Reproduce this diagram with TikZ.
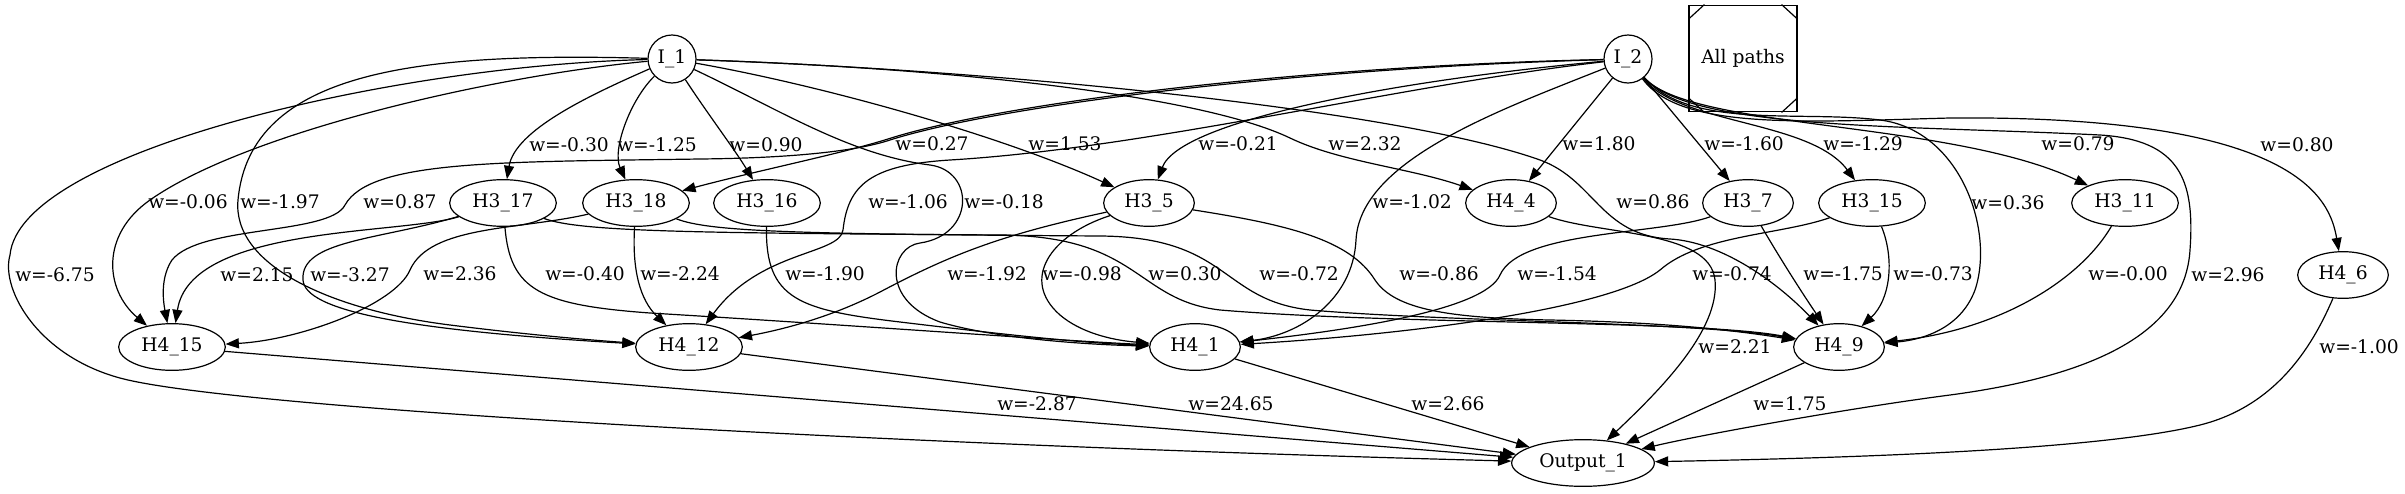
\documentclass[tikz,border=0pt]{standalone}
\usepackage{fontspec}
\setmainfont{DejaVu Serif}
\usetikzlibrary{arrows.meta,shapes.geometric}

\begin{document}
\begin{tikzpicture}[
  x=0.75pt, y=-0.75pt,
  font=\fontsize{14}{16}\selectfont,
  inp/.style={draw, circle, line width=0.9pt, minimum size=36pt, inner sep=0pt},
  hid/.style={draw, ellipse, line width=0.9pt, minimum width=68pt, minimum height=35pt, inner sep=0pt},
  hidw/.style={hid, minimum width=80pt},
  outp/.style={hid, minimum width=107pt},
  wt/.style={inner sep=0pt},
  arr/.style={-{Triangle[length=10pt,width=7.5pt]}, line width=0.9pt}
]
\useasboundingbox (0,0) rectangle (2405,493);

\node[inp] (i1) at (672,59) {I\_1};
\node[inp] (i2) at (1628,59) {I\_2};
\node[draw, line width=0.9pt, minimum width=81pt, minimum height=80pt] (allp) at (1743,58.5) {All paths};
\node[hidw] (h317) at (503,203) {H3\_17};
\node[hidw] (h318) at (636,203) {H3\_18};
\node[hidw] (h316) at (767,203) {H3\_16};
\node[hid] (h35) at (1149,203) {H3\_5};
\node[hid] (h44) at (1511,203) {H4\_4};
\node[hid] (h37) at (1748,203) {H3\_7};
\node[hidw] (h315) at (1872,203) {H3\_15};
\node[hidw] (h311) at (2125,203) {H3\_11};
\node[hid] (h46) at (2343,275) {H4\_6};
\node[hidw] (h415) at (172,347) {H4\_15};
\node[hidw] (h412) at (689,347) {H4\_12};
\node[hid] (h41) at (1195,347) {H4\_1};
\node[hid] (h49) at (1839,347) {H4\_9};
\node[outp] (out) at (1583,463) {Output\_1};

% corners of the legend box
\draw[line width=0.9pt] ([yshift=-11pt]allp.north west) -- ([xshift=12pt]allp.north west);
\draw[line width=0.9pt] ([yshift=-11pt]allp.north east) -- ([xshift=-12pt]allp.north east);
\draw[line width=0.9pt] ([yshift=11pt]allp.south west) -- ([xshift=12pt]allp.south west);
\draw[line width=0.9pt] ([yshift=11pt]allp.south east) -- ([xshift=-12pt]allp.south east);

% from I_1
\draw[arr] (i1) .. controls (590,95) and (515,130) .. (h317) node[wt] (w1) at (569,145) {w=-0.30};
\draw[arr] (i1) .. controls (630,100) and (612,150) .. (h318) node[wt] (w2) at (657,145) {w=-1.25};
\draw[arr] (i1) .. controls (705,110) and (735,150) .. (h316) node[wt] (w3) at (766,145) {w=0.90};
\draw[arr] (i1) .. controls (820,85) and (1000,135) .. (h35) node[wt] (w4) at (1065,144) {w=1.53};
\draw[arr] (i1) .. controls (950,68) and (1200,95) .. (1290,138) .. controls (1340,162) and (1410,168) .. (h44) node[wt] (w5) at (1365,144) {w=2.32};
\draw[arr] (i1) .. controls (1000,70) and (1400,110) .. (1540,160) .. controls (1595,180) and (1600,235) .. (1670,239) .. controls (1720,242) and (1775,280) .. (h49) node[wt] (w6) at (1653,202) {w=0.86};
\draw[arr] (i1) .. controls (780,110) and (850,155) .. (930,165) .. controls (975,171) and (975,235) .. (920,243) .. controls (890,247) and (880,300) .. (940,322) .. controls (1000,340) and (1100,345) .. (h41) node[wt] (w7) at (1004,202) {w=-0.18};
\draw[arr] (i1) .. controls (500,75) and (250,130) .. (150,200) .. controls (100,235) and (105,290) .. (h415) node[wt] (w8) at (188,202) {w=-0.06};
\draw[arr] (i1) .. controls (420,52) and (250,70) .. (238,200) .. controls (232,265) and (330,310) .. (450,325) .. controls (530,335) and (590,340) .. (h412) node[wt] (w9) at (280,202) {w=-1.97};
\draw[arr] (i1) .. controls (400,65) and (20,150) .. (10,255) .. controls (0,290) and (40,360) .. (128,380) .. controls (260,410) and (900,445) .. (out) node[wt] (w10) at (55,275) {w=-6.75};

% from I_2
\draw[arr] (i2) .. controls (1300,66) and (1000,103) .. (888,139) .. controls (840,154) and (760,170) .. (h318) node[wt] (w11) at (932,144) {w=0.27};
\draw[arr] (i2) .. controls (1400,80) and (1180,120) .. (h35) node[wt] (w12) at (1238,144) {w=-0.21};
\draw[arr] (i2) -- (h44) node[wt] (w13) at (1599,144) {w=1.80};
\draw[arr] (i2) -- (h37) node[wt] (w14) at (1744,144) {w=-1.60};
\draw[arr] (i2) .. controls (1680,125) and (1810,120) .. (h315) node[wt] (w15) at (1863,144) {w=-1.29};
\draw[arr] (i2) .. controls (1690,130) and (1950,120) .. (h311) node[wt] (w16) at (2078,144) {w=0.79};
\draw[arr] (i2) .. controls (1680,130) and (1800,122) .. (1950,118) .. controls (2300,115) and (2330,200) .. (h46) node[wt] (w17) at (2297,145) {w=0.80};
\draw[arr] (i2) .. controls (1690,130) and (1800,110) .. (1880,120) .. controls (1960,130) and (1995,230) .. (1975,290) .. controls (1960,330) and (1920,340) .. (h49) node[wt] (w18) at (2008,203) {w=0.36};
\draw[arr] (i2) .. controls (1690,130) and (1900,125) .. (2100,135) .. controls (2180,140) and (2195,180) .. (2190,250) .. controls (2185,330) and (2100,375) .. (1950,395) .. controls (1850,408) and (1700,435) .. (out) node[wt] (w19) at (2228,275) {w=2.96};
\draw[arr] (i2) .. controls (1500,110) and (1360,160) .. (1356,240) .. controls (1353,300) and (1300,335) .. (h41) node[wt] (w20) at (1412,202) {w=-1.02};
\draw[arr] (i2) .. controls (1400,85) and (1150,148) .. (950,160) .. controls (870,165) and (848,185) .. (843,230) .. controls (840,255) and (760,250) .. (h412) node[wt] (w21) at (908,202) {w=-1.06};
\draw[arr] (i2) .. controls (1300,68) and (1000,105) .. (890,140) .. controls (860,150) and (800,158) .. (700,159) .. controls (500,162) and (370,160) .. (345,205) .. controls (330,235) and (200,225) .. (172,260) .. controls (162,275) and (162,295) .. (h415) node[wt] (w22) at (400,202) {w=0.87};

% from H3_17
\draw[arr] (h317) .. controls (400,235) and (190,225) .. (h415) node[wt] (w23) at (257,275) {w=2.15};
\draw[arr] (h317) .. controls (380,240) and (300,240) .. (303,280) .. controls (305,310) and (400,330) .. (h412) node[wt] (w24) at (350,275) {w=-3.27};
\draw[arr] (h317) .. controls (510,290) and (540,305) .. (650,313) .. controls (850,325) and (1050,340) .. (h41) node[wt] (w25) at (585,274) {w=-0.40};
\draw[arr] (h317) .. controls (580,232) and (700,233) .. (1000,235) .. controls (1140,236) and (1135,300) .. (1220,310) .. controls (1400,325) and (1700,320) .. (h49) node[wt] (w26) at (1185,274) {w=0.30};

% from H3_18
\draw[arr] (h318) .. controls (520,230) and (430,225) .. (410,270) .. controls (395,305) and (300,340) .. (h415) node[wt] (w27) at (460,274) {w=2.36};
\draw[arr] (h318) .. controls (632,270) and (640,300) .. (h412) node[wt] (w28) at (680,274) {w=-2.24};
\draw[arr] (h318) .. controls (710,232) and (800,234) .. (1100,236) .. controls (1230,237) and (1220,300) .. (1310,310) .. controls (1450,322) and (1700,322) .. (h49) node[wt] (w29) at (1299,274) {w=-0.72};

% from H3_16, H3_5
\draw[arr] (h316) .. controls (765,300) and (800,310) .. (900,322) .. controls (1000,334) and (1080,343) .. (h41) node[wt] (w30) at (825,274) {w=-1.90};
\draw[arr] (h35) .. controls (1000,235) and (950,255) .. (880,292) .. controls (830,318) and (780,330) .. (h412) node[wt] (w31) at (987,274) {w=-1.92};
\draw[arr] (h35) .. controls (1050,235) and (1020,280) .. (1060,315) .. controls (1080,332) and (1110,340) .. (h41) node[wt] (w32) at (1082,274) {w=-0.98};
\draw[arr] (h35) .. controls (1290,225) and (1350,240) .. (1375,280) .. controls (1395,310) and (1450,318) .. (1550,320) .. controls (1650,322) and (1720,328) .. (h49) node[wt] (w33) at (1439,274) {w=-0.86};

% from H3_7, H3_15, H3_11
\draw[arr] (h37) .. controls (1660,235) and (1520,230) .. (1500,275) .. controls (1485,310) and (1350,330) .. (h41) node[wt] (w34) at (1557,274) {w=-1.54};
\draw[arr] (h37) .. controls (1775,250) and (1800,290) .. (h49) node[wt] (w35) at (1843,274) {w=-1.75};
\draw[arr] (h315) .. controls (1780,235) and (1700,235) .. (1660,270) .. controls (1610,310) and (1400,335) .. (h41) node[wt] (w36) at (1732,274) {w=-0.74};
\draw[arr] (h315) .. controls (1895,260) and (1890,300) .. (h49) node[wt] (w37) at (1933,274) {w=-0.73};
\draw[arr] (h311) .. controls (2080,280) and (2000,330) .. (h49) node[wt] (w38) at (2128,274) {w=-0.00};

% into Output_1
\draw[arr] (h44) .. controls (1600,235) and (1710,230) .. (1715,280) .. controls (1720,330) and (1660,390) .. (out) node[wt] (w39) at (1735,347) {w=2.21};
\draw[arr] (h46) .. controls (2315,340) and (2280,405) .. (2200,425) .. controls (2100,450) and (1850,458) .. (out) node[wt] (w40) at (2359,347) {w=-1.00};
\draw[arr] (h415) -- (out) node[wt] (w41) at (1037,404) {w=-2.87};
\draw[arr] (h412) -- (out) node[wt] (w42) at (1231,404) {w=24.65};
\draw[arr] (h41) -- (out) node[wt] (w43) at (1448,404) {w=2.66};
\draw[arr] (h49) -- (out) node[wt] (w44) at (1790,404) {w=1.75};
\end{tikzpicture}
\end{document}
